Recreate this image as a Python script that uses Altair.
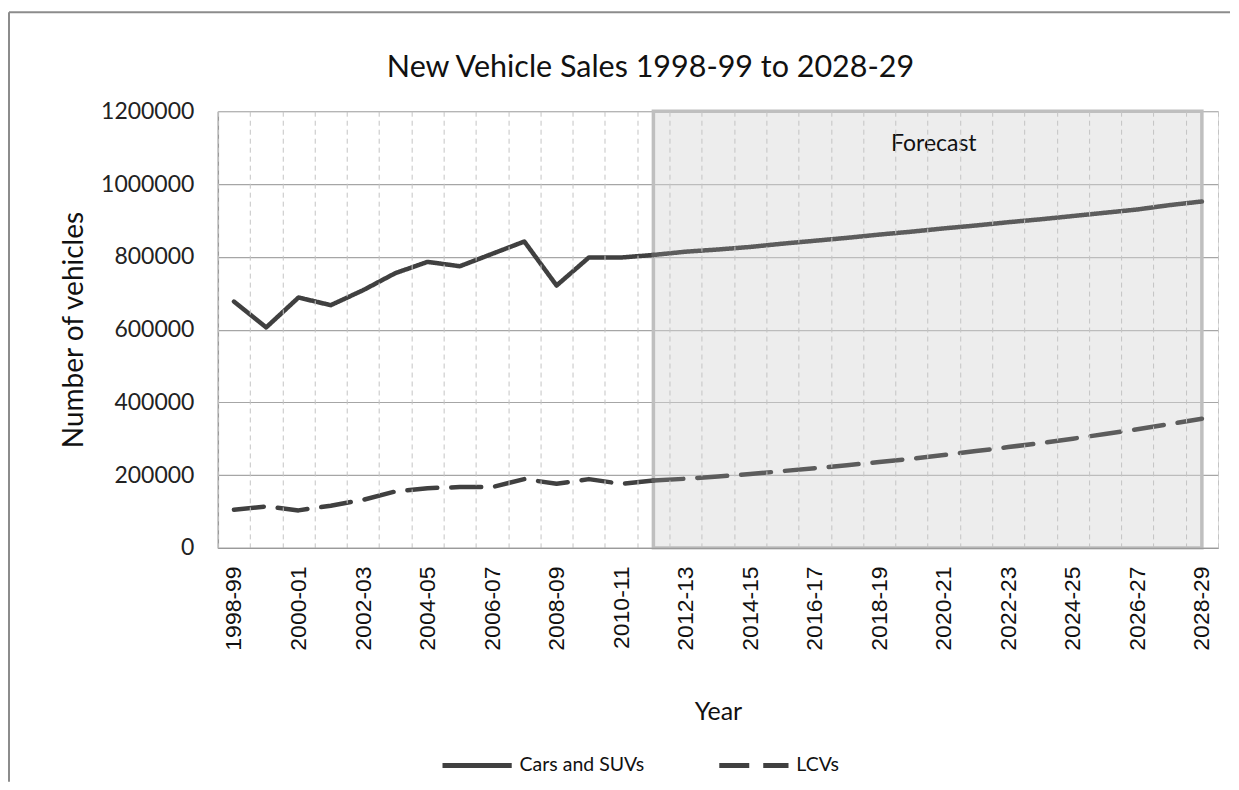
import altair as alt
import pandas as pd

years = ["1998-99", "1999-00", "2000-01", "2001-02", "2002-03", "2003-04", "2004-05",
         "2005-06", "2006-07", "2007-08", "2008-09", "2009-10", "2010-11", "2011-12",
         "2012-13", "2013-14", "2014-15", "2015-16", "2016-17", "2017-18", "2018-19",
         "2019-20", "2020-21", "2021-22", "2022-23", "2023-24", "2024-25", "2025-26",
         "2026-27", "2027-28", "2028-29"]

cars = [677000, 606000, 688000, 667000, 708000, 755000, 786000,
        774000, 808000, 842000, 721000, 798000, 798000, 805000,
        814000, 820000, 827000, 836000, 844000, 852000, 861000,
        869000, 878000, 886000, 895000, 903000, 912000, 921000,
        930000, 942000, 952000]

lcvs = [105000, 114000, 103000, 116000, 132000, 155000, 164000,
        167000, 167000, 189000, 176000, 189000, 176000, 185000,
        190000, 196000, 203000, 211000, 219000, 227000, 236000,
        245000, 255000, 266000, 277000, 288000, 300000, 313000,
        326000, 340000, 355000]

series_names = ["Cars and SUVs", "LCVs"]
forecast_start = "2011-12"
forecast_label = "Forecast"
title_text = "New Vehicle Sales 1998-99 to 2028-29"

W, H = 1001, 437
FONT = "Lato"

rows = []
for i, y in enumerate(years):
    rows.append({"year": y, "idx": i, "series": series_names[0], "value": cars[i]})
    rows.append({"year": y, "idx": i, "series": series_names[1], "value": lcvs[i]})
df = pd.DataFrame(rows)
fs_idx = years.index(forecast_start)

xscale = alt.Scale(type="band", domain=years, paddingInner=0, paddingOuter=0)
xaxis = alt.Axis(
    title="Year", labelAngle=-90, tickBand="extent", grid=True,
    gridDash=[5, 4], gridColor="#c4c4c4", gridWidth=1,
    domainColor="#9a9a9a", domainWidth=1.5, ticks=False,
    labelExpr="parseInt(substring(datum.value,0,4)) % 2 == 0 ? datum.value : ''",
    labelFont="Liberation Sans", labelFontSize=23, labelColor="#111111", labelPadding=18,
    titleFont=FONT, titleFontSize=25, titleFontWeight="normal", titleColor="#111111",
    titleY=164, titleBaseline="middle",
)
yscale = alt.Scale(domain=[0, 1200000], nice=False)
yaxis = alt.Axis(
    title="Number of vehicles", values=list(range(0, 1200001, 200000)), format="d",
    grid=True, gridColor="#a6a6a6", gridWidth=1.2, ticks=False,
    domainColor="#9a9a9a", domainWidth=1.5,
    labelFont=FONT, labelFontSize=23, labelColor="#222222", labelPadding=24,
    titleFont=FONT, titleFontSize=28, titleFontWeight="normal", titleColor="#111111",
    titleX=-143, titleY=H / 2, titleBaseline="middle", titleAngle=-90,
)

base = alt.Chart(df)

forecast_df = pd.DataFrame([{"start": forecast_start, "end": years[-1], "label": forecast_label}])

# chart-area frame (only the top and left edges are visible in the reference)
frame_top = alt.Chart(forecast_df).mark_rule(stroke="#8c8c8c", strokeWidth=2, clip=False).encode(
    x=alt.value(-209), x2=alt.value(W + 12), y=alt.value(-99)
)
frame_left = alt.Chart(forecast_df).mark_rule(stroke="#8c8c8c", strokeWidth=2, clip=False).encode(
    x=alt.value(-209), y=alt.value(-99), y2=alt.value(H + 234)
)

shade = alt.Chart(forecast_df).mark_rect(
    fill="#d8d8d8", fillOpacity=0.45, stroke="#bfbfbf", strokeWidth=3.5
).encode(
    x=alt.X("start:O", scale=xscale, axis=xaxis, bandPosition=0.5),
    x2=alt.X2("end", bandPosition=0.5),
    y=alt.YDatum(1200000, type="quantitative", scale=yscale, axis=yaxis),
    y2=alt.Y2Datum(0),
)

ftext = alt.Chart(forecast_df).mark_text(
    font=FONT, fontSize=23, color="#111111", baseline="middle", align="center", dx=-10
).encode(
    x=alt.XDatum(years[22], type="ordinal", bandPosition=0.5),
    y=alt.YDatum(1110000, type="quantitative"),
    text="label:N",
)

legend_kw = dict(
    title=None, orient="none", legendX=222, legendY=617, direction="horizontal",
    symbolType="stroke", symbolSize=4800, symbolStrokeWidth=5,
    labelFont=FONT, labelFontSize=19.5, labelColor="#111111",
    columnPadding=64, labelOffset=5, symbolOffset=0,
)
color = alt.Color("series:N", scale=alt.Scale(domain=series_names, range=["#404040", "#404040"]),
                  legend=alt.Legend(**legend_kw))
dash = alt.StrokeDash("series:N", scale=alt.Scale(domain=series_names, range=[[1, 0], [30, 14]]),
                      legend=alt.Legend(**legend_kw))

hist = base.transform_filter(alt.datum.idx <= fs_idx).mark_line(
    strokeWidth=4.5, strokeCap="round", strokeJoin="round"
).encode(
    x=alt.X("year:O", bandPosition=0.5),
    y=alt.Y("value:Q"),
    color=color,
    strokeDash=dash,
)

fore = base.transform_filter(alt.datum.idx >= fs_idx).mark_line(
    strokeWidth=4.5, strokeCap="round", strokeJoin="round", color="#5c5c5c"
).encode(
    x=alt.X("year:O", bandPosition=0.5),
    y=alt.Y("value:Q"),
    detail="series:N",
    strokeDash=alt.StrokeDash("series:N", legend=None),
)

title = alt.Chart(forecast_df).mark_text(
    text=title_text, font=FONT, fontSize=30.5, color="#111111", align="center", baseline="middle"
).encode(x=alt.value(433), y=alt.value(-43))

chart = alt.layer(frame_top, frame_left, shade, hist, fore, ftext, title).properties(
    width=W, height=H, padding={"left": 0, "top": 3, "right": 0, "bottom": 0},
).configure_view(stroke=None).configure(background="white")

chart.save("out.html", embed_options={"renderer": "svg", "actions": False})
